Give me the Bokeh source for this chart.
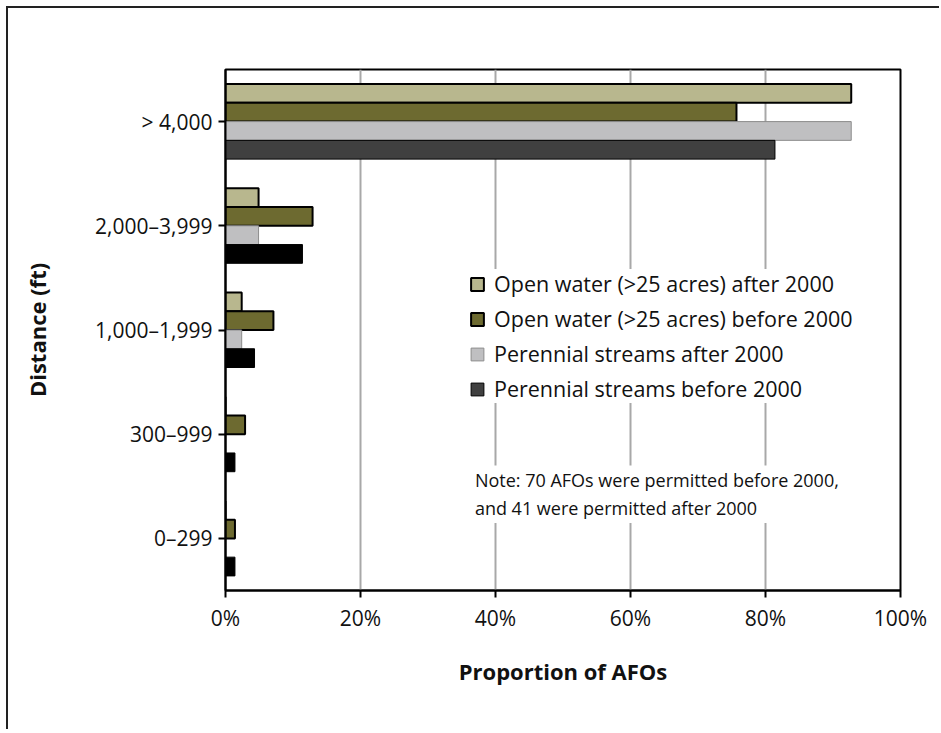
from bokeh.plotting import figure
from bokeh.models import ColumnDataSource, FactorRange, Legend, LegendItem, Label, FixedTicker
from bokeh.transform import dodge
from bokeh.embed import file_html
from bokeh.resources import INLINE

# ---- data (percent of AFOs) ----
distances = ["0–299", "300–999", "1,000–1,999", "2,000–3,999", "> 4,000"]
open_water_after = [0.0, 0.0, 2.4, 4.9, 92.7]
open_water_before = [1.4, 2.9, 7.1, 12.9, 75.7]
streams_after = [0.0, 0.0, 2.4, 4.9, 92.7]
streams_before = [1.4, 1.4, 4.3, 11.4, 81.4]
streams_before_colors = ["#000000", "#000000", "#000000", "#000000", "#404040"]

series_labels = [
    "Open water (>25 acres) after 2000",
    "Open water (>25 acres) before 2000",
    "Perennial streams after 2000",
    "Perennial streams before 2000",
]
x_ticks = [0, 20, 40, 60, 80, 100]
x_tick_labels = ["0%", "20%", "40%", "60%", "80%", "100%"]
note_text = "Note: 70 AFOs were permitted before 2000,\nand 41 were permitted after 2000"

FONT = "Open Sans"
TXT = "#111111"

src = ColumnDataSource(dict(
    dist=distances,
    oa=open_water_after,
    ob=open_water_before,
    sa=streams_after,
    sb=streams_before,
    sbc=streams_before_colors,
))

p = figure(
    width=933, height=723,
    y_range=FactorRange(*distances),
    x_range=(0, 100),
    output_backend="svg", toolbar_location=None,
    min_border_left=217, min_border_right=41,
    min_border_top=61, min_border_bottom=141,
    styles={"margin-left": "6px", "margin-top": "6px",
            "border-left": "2px solid #222222", "border-top": "2px solid #222222"},
)
p.background_fill_color = "white"
p.border_fill_color = "white"
p.outline_line_color = "black"
p.outline_line_width = 2

bh = 0.18
r_oa = p.hbar(y=dodge("dist", 0.27, range=p.y_range), left=0, right="oa", height=bh,
              source=src, fill_color="#b8b78e", line_color="black", line_width=2)
r_ob = p.hbar(y=dodge("dist", 0.09, range=p.y_range), left=0, right="ob", height=bh,
              source=src, fill_color="#6d6a30", line_color="black", line_width=2)
r_sa = p.hbar(y=dodge("dist", -0.09, range=p.y_range), left=0, right="sa", height=bh,
              source=src, fill_color="#bfbfc1", line_color="#8c8c8c", line_width=1)
r_sb = p.hbar(y=dodge("dist", -0.27, range=p.y_range), left=0, right="sb", height=bh,
              source=src, fill_color="sbc", line_color="black", line_width=1)

# grid
p.ygrid.grid_line_color = None
p.xgrid.ticker = FixedTicker(ticks=x_ticks)
p.xgrid.grid_line_color = "#a8a8a8"
p.xgrid.grid_line_width = 2

# x axis
xa = p.xaxis[0]
xa.ticker = FixedTicker(ticks=x_ticks)
xa.major_label_overrides = {t: l for t, l in zip(x_ticks, x_tick_labels)}
xa.axis_label = "Proportion of AFOs"
xa.minor_tick_line_color = None
xa.major_tick_in = 0
xa.major_tick_out = 7
xa.major_tick_line_width = 2
xa.major_tick_line_color = "black"
xa.axis_line_width = 2
xa.axis_line_color = "black"
xa.major_label_standoff = 6
xa.axis_label_standoff = 21

# y axis
ya = p.yaxis[0]
ya.axis_label = "Distance (ft)"
ya.major_tick_in = 0
ya.major_tick_out = 7
ya.major_tick_line_width = 2
ya.major_tick_line_color = "black"
ya.axis_line_width = 2
ya.axis_line_color = "black"
ya.major_label_standoff = 6
ya.axis_label_standoff = 40

for ax in (xa, ya):
    ax.major_label_text_font = FONT
    ax.major_label_text_font_size = "21px"
    ax.major_label_text_color = TXT
    ax.axis_label_text_font = FONT
    ax.axis_label_text_font_size = "22px"
    ax.axis_label_text_font_style = "bold"
    ax.axis_label_text_color = TXT

# legend
items = [
    LegendItem(label=series_labels[0], renderers=[r_oa]),
    LegendItem(label=series_labels[1], renderers=[r_ob]),
    LegendItem(label=series_labels[2], renderers=[r_sa]),
    LegendItem(label=series_labels[3], renderers=[r_sb], index=4),
]
legend = Legend(items=items, location=(244, 187))
legend.border_line_color = None
legend.background_fill_color = "white"
legend.background_fill_alpha = 1.0
legend.padding = 6
legend.margin = 0
legend.spacing = 6
legend.glyph_width = 16
legend.glyph_height = 16
legend.label_standoff = 9
legend.label_text_font = FONT
legend.label_text_font_size = "21.5px"
legend.label_text_color = TXT
p.add_layout(legend, "center")

note = Label(x=36.5, y=1.2, text=note_text, text_baseline="top", text_align="left",
             text_font=FONT, text_font_size="18px", text_color=TXT,
             text_line_height=1.15, background_fill_color="white",
             padding=3)
p.add_layout(note)

open("out.html", "w").write(file_html(p, INLINE))
